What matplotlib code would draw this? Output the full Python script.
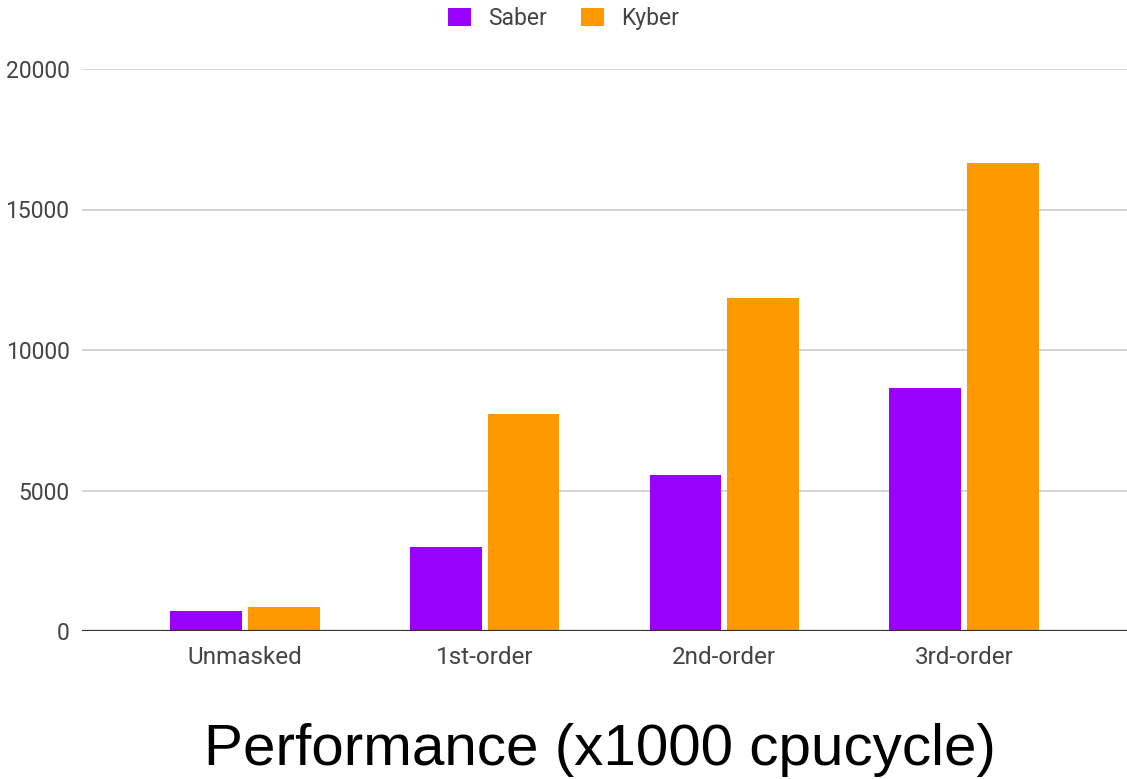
import matplotlib
matplotlib.use("Agg")
import matplotlib.pyplot as plt
from matplotlib.patches import Patch
import numpy as np

categories = ["Unmasked", "1st-order", "2nd-order", "3rd-order"]
saber = [710, 3000, 5560, 8640]
kyber = [860, 7720, 11850, 16670]
series_names = ["Saber", "Kyber"]
series_colors = ["#9900FF", "#FF9900"]
yticks = [0, 5000, 10000, 15000, 20000]

plt.rcParams["font.family"] = ["Roboto", "DejaVu Sans"]

W, H = 1127, 779
fig = plt.figure(figsize=(W / 100, H / 100), dpi=100)
ax = fig.add_axes([82 / W, 1 - 631 / H, (W - 82) / W, (631 - 69) / H])

x = np.arange(len(categories))
width = 0.30
offset = 0.162
ax.bar(x - offset, saber, width, color=series_colors[0], zorder=3)
ax.bar(x + offset, kyber, width, color=series_colors[1], zorder=3)

ax.set_xlim(-0.68, 3.68)
ax.set_ylim(0, 20000)
ax.set_yticks(yticks)
ax.set_yticklabels([str(v) for v in yticks])
ax.set_xticks(x)
ax.set_xticklabels(categories)

ax.grid(axis="y", color="#cccccc", linewidth=1.2, zorder=0)
ax.axhline(0, color="#333333", linewidth=1.6, zorder=4)
for s in ax.spines.values():
    s.set_visible(False)
ax.tick_params(axis="both", length=0, labelsize=16.5, labelcolor="#444444")
ax.tick_params(axis="x", labelsize=17.5, pad=11)
ax.tick_params(axis="y", pad=9)

handles = [Patch(facecolor=c, edgecolor="none") for c in series_colors]
fig.legend(handles, series_names, loc="upper center", bbox_to_anchor=(0.5, 1.018),
           ncol=2, frameon=False, fontsize=16.5, handlelength=1.0, handleheight=0.85,
           handletextpad=0.75, columnspacing=1.5, labelcolor="#444444")

fig.text(0.532, 1 - 765 / H, "Performance (x1000 cpucycle)", ha="center", va="baseline",
         fontsize=42, family=["Liberation Sans", "DejaVu Sans"], color="black")

fig.savefig("out.png", dpi=100, facecolor="white")
